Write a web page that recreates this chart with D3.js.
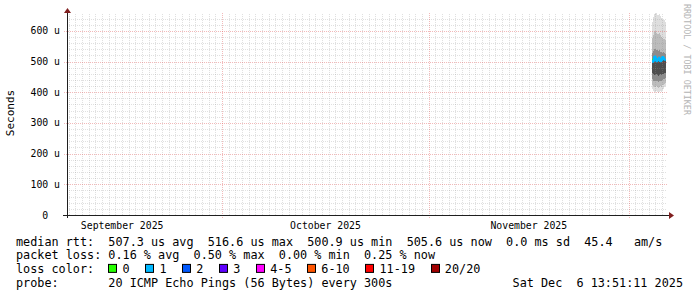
<!DOCTYPE html>
<html>
<head>
<meta charset="utf-8">
<script src="https://cdn.jsdelivr.net/npm/d3@7"></script>
<style>
  body { margin: 0; background: #fff; }
  svg text { font-family: "DejaVu Sans Mono", monospace; white-space: pre; }
</style>
</head>
<body>
<div id="canvas"></div>
<script>
// time window (last 90 days up to the graph date)
const endTime = new Date(2025, 11, 6, 13, 51, 11);
const spanDays = 90;

// y axis ticks (us)
const yTicks = [0, 100, 200, 300, 400, 500, 600];
const yTickLabels = ["0  ", "100 u", "200 u", "300 u", "400 u", "500 u", "600 u"];
const yMax = 658;

// samples (end of each consolidated step, 3h36m)
const sampleTimes = [
  "2025-12-04 15:00", "2025-12-04 18:36", "2025-12-04 22:12", "2025-12-05 01:48",
  "2025-12-05 05:24", "2025-12-05 09:00", "2025-12-05 12:36", "2025-12-05 16:12",
  "2025-12-05 19:48", "2025-12-05 23:24", "2025-12-06 03:00", "2025-12-06 06:36",
  "2025-12-06 10:12", "2025-12-06 13:48"
];
const medianRtt = [506.0, 499.0, 514.0, 516.6, 503.0, 500.9, 508.0, 512.0, 502.0, 500.9, 513.0, 515.0, 507.0, 505.6];
const lossCount = [0, 1, 1, 1, 1, 1, 1, 1, 1, 1, 1, 1, 1, 1];

// smoke: sorted ping quantiles (us)
const pingMax = [628, 646, 655, 658, 657, 652, 650, 654, 648, 642, 638, 636, 634, 630];
const ping90  = [575, 585, 595, 598, 594, 590, 588, 592, 586, 580, 576, 574, 572, 570];
const ping75  = [528, 535, 540, 542, 538, 536, 534, 538, 532, 530, 528, 530, 528, 526];
const ping60  = [508, 512, 515, 514, 510, 508, 510, 512, 506, 507, 510, 512, 509, 507];
const ping40  = [462, 458, 455, 456, 458, 455, 453, 456, 458, 455, 458, 460, 462, 463];
const ping25  = [442, 438, 435, 436, 438, 435, 433, 436, 438, 436, 440, 442, 444, 446];
const ping10  = [425, 420, 416, 418, 420, 416, 414, 418, 420, 418, 422, 425, 428, 430];
const pingMin = [412, 405, 400, 402, 404, 400, 398, 402, 405, 402, 408, 412, 416, 420];

// loss legend
const lossLabels = ["0", "1", "2", "3", "4-5", "6-10", "11-19", "20/20"];
const lossColors = ["#26ff00", "#00b8ff", "#0059ff", "#5e00ff", "#ff00ff", "#ff5500", "#ff0000", "#a10000"];

const legendRows = [
  ["median rtt:  ", "507.3 us avg  516.6 us max  500.9 us min  505.6 us now  0.0 ms sd  45.4   am/s"],
  ["packet loss: ", "0.16 % avg  0.50 % max  0.00 % min  0.25 % now"],
  ["loss color:  ", ""],
  ["probe:       ", "20 ICMP Echo Pings (56 Bytes) every 300s"]
];
const dateStamp = "Sat Dec  6 13:51:11 2025";

function drawChart() {
  const width = 697, height = 297;
  const left = 66, right = 666, top = 13, bottom = 215;
  const stepMs = 3.6 * 3600e3;

  const parse = d3.timeParse("%Y-%m-%d %H:%M");
  const times = sampleTimes.map(parse);
  const startTime = new Date(endTime.getTime() - spanDays * 864e5);

  const svg = d3.select("#canvas").append("svg")
    .attr("width", width).attr("height", height);
  svg.append("rect").attr("width", width).attr("height", height).attr("fill", "#fff");

  const x = d3.scaleTime().domain([startTime, endTime]).range([left, right]);
  const y = d3.scaleLinear().domain([0, yMax]).range([bottom, top]);

  // smoke
  const bands = [
    [pingMin, pingMax, "#dedede"],
    [ping10, ping90, "#bcbcbc"],
    [ping25, ping75, "#8c8c8c"],
    [ping40, ping60, "#4e4e4e"]
  ];
  const smoke = svg.append("g");
  bands.forEach(([lo, hi, col]) => {
    smoke.selectAll(null).data(times).enter().append("rect")
      .attr("x", d => x(new Date(d - stepMs)))
      .attr("width", d => x(d) - x(new Date(d - stepMs)))
      .attr("y", (d, i) => y(hi[i]))
      .attr("height", (d, i) => y(lo[i]) - y(hi[i]))
      .attr("fill", col)
      .attr("shape-rendering", "crispEdges");
  });

  // grid (drawn over the smoke like rrdtool does)
  const minorCol = "rgba(143,143,143,0.28)";
  const majorCol = "rgba(222,79,79,0.4)";
  const grid = svg.append("g").attr("shape-rendering", "crispEdges");
  const snap = v => Math.round(v) + 0.5;

  const minorY = d3.range(20, yMax, 20).filter(v => v % 100 !== 0);
  grid.selectAll(".hmin").data(minorY).enter().append("line")
    .attr("x1", left + 1).attr("x2", right + 1)
    .attr("y1", d => snap(y(d))).attr("y2", d => snap(y(d)))
    .attr("stroke", minorCol).attr("stroke-dasharray", "1,1");

  const months = d3.timeMonth.range(startTime, endTime);
  const days = d3.timeDay.range(startTime, endTime)
    .filter(d => d.getDate() !== 1);
  grid.selectAll(".vmin").data(days).enter().append("line")
    .attr("x1", d => snap(x(d))).attr("x2", d => snap(x(d)))
    .attr("y1", bottom).attr("y2", top)
    .attr("stroke", minorCol).attr("stroke-dasharray", "1,1");

  grid.selectAll(".hmaj").data(yTicks.slice(1)).enter().append("line")
    .attr("x1", left - 2).attr("x2", right + 1)
    .attr("y1", d => snap(y(d))).attr("y2", d => snap(y(d)))
    .attr("stroke", majorCol).attr("stroke-dasharray", "1,1");

  grid.selectAll(".vmaj").data(months).enter().append("line")
    .attr("x1", d => snap(x(d))).attr("x2", d => snap(x(d)))
    .attr("y1", bottom + 3).attr("y2", top)
    .attr("stroke", majorCol).attr("stroke-dasharray", "1,1");

  // median line, coloured by loss
  const med = svg.append("g");
  times.forEach((t, i) => {
    const x0 = x(new Date(t - stepMs)), x1 = x(t);
    const yPrev = i > 0 ? y(medianRtt[i - 1]) : y(medianRtt[i]);
    const path = d3.path();
    path.moveTo(x0, yPrev);
    path.lineTo(x0, y(medianRtt[i]));
    path.lineTo(x1, y(medianRtt[i]));
    med.append("path").attr("d", path.toString())
      .attr("fill", "none")
      .attr("stroke", lossColors[Math.min(lossCount[i], 1)])
      .attr("stroke-width", 2);
  });

  // axes
  const axisCol = "#1f1f1f", arrowCol = "#801f1f";
  svg.append("line").attr("x1", 63).attr("x2", right + 3)
    .attr("y1", bottom + 0.5).attr("y2", bottom + 0.5)
    .attr("stroke", axisCol).attr("shape-rendering", "crispEdges");
  svg.append("line").attr("x1", left + 1.5).attr("x2", left + 1.5)
    .attr("y1", bottom + 3).attr("y2", top - 1)
    .attr("stroke", axisCol).attr("shape-rendering", "crispEdges");
  svg.append("path")
    .attr("d", `M${right + 3},${bottom - 3} L${right + 8},${bottom + 0.5} L${right + 3},${bottom + 4} Z`)
    .attr("fill", arrowCol);
  svg.append("path")
    .attr("d", `M${left - 2},${top} L${left + 1.5},${top - 5} L${left + 5},${top} Z`)
    .attr("fill", arrowCol);

  // y tick labels
  svg.append("g").selectAll("text").data(yTicks).enter().append("text")
    .attr("x", 60).attr("y", d => y(d) + 3.5)
    .attr("text-anchor", "end")
    .attr("font-size", "9.8px")
    .text((d, i) => yTickLabels[i]);

  // month labels, centred on the month
  const monthLabel = d3.timeFormat("%B %Y");
  const labelMonths = d3.timeMonth.range(d3.timeMonth.floor(startTime), endTime)
    .filter(m => {
      const mid = new Date((+m + +d3.timeMonth.offset(m, 1)) / 2);
      return mid >= startTime && mid <= endTime;
    });
  svg.append("g").selectAll("text").data(labelMonths).enter().append("text")
    .attr("x", m => (x(m) + x(d3.timeMonth.offset(m, 1))) / 2)
    .attr("y", 228.5)
    .attr("text-anchor", "middle")
    .attr("font-size", "9.8px")
    .text(monthLabel);

  // vertical title
  svg.append("text")
    .attr("transform", "translate(14,113) rotate(-90)")
    .attr("text-anchor", "middle")
    .attr("font-size", "11px")
    .text("Seconds");

  // watermark
  svg.append("text")
    .attr("transform", "translate(683.5,4) rotate(90)")
    .attr("font-size", "8.4px")
    .attr("fill", "#b4b4b4")
    .text("RRDTOOL / TOBI OETIKER");

  // legend
  const charW = 7.1, legendX = 16, rowY = 245.5, rowH = 13.7;
  const leg = svg.append("g").attr("font-size", "11.8px");
  legendRows.forEach((r, i) => {
    leg.append("text").attr("x", legendX).attr("y", rowY + i * rowH).text(r[0] + r[1]);
  });
  leg.append("text").attr("x", 683).attr("y", rowY + 3 * rowH)
    .attr("text-anchor", "end").text(dateStamp);

  let bx = legendX + 13 * charW;
  const by = rowY + 2 * rowH;
  lossLabels.forEach((lab, i) => {
    leg.append("rect").attr("x", Math.round(bx) + 0.5).attr("y", by - 8.5)
      .attr("width", 8).attr("height", 8)
      .attr("fill", lossColors[i]).attr("stroke", "#000");
    leg.append("text").attr("x", bx + 2 * charW).attr("y", by).text(lab);
    bx += charW * (lab.length + 4.2);
  });
}

drawChart();
</script>
</body>
</html>
